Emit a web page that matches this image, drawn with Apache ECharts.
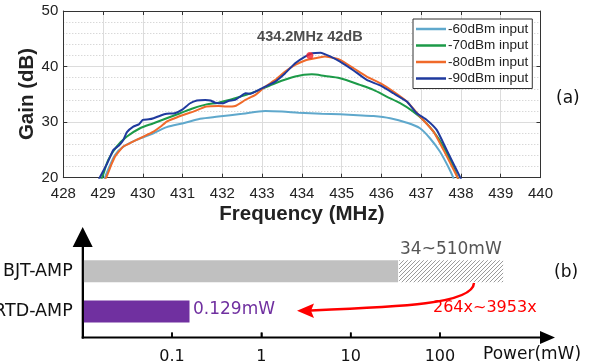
<!DOCTYPE html>
<html>
<head>
<meta charset="utf-8">
<script src="https://cdn.jsdelivr.net/npm/echarts@6/dist/echarts.min.js"></script>
<style>html,body{margin:0;padding:0;background:#fff}#c{width:603px;height:364px}</style>
</head>
<body>
<div id="c"></div>
<script>
// ---------- Data (a): gain vs frequency ----------
const seriesNames = ['-60dBm input', '-70dBm input', '-80dBm input', '-90dBm input'];
const gain60 = [[429.0,19],[429.09,20.8],[429.3,24.1],[429.51,25.6],[429.84,26.8],[430.27,28.0],[430.6,29.1],[431.02,29.8],[431.44,30.6],[431.9,31.0],[432.5,31.5],[433.08,32.0],[433.5,31.9],[433.92,31.7],[434.5,31.5],[434.96,31.4],[435.4,31.25],[435.8,31.1],[436.22,30.7],[436.64,29.9],[436.97,28.9],[437.22,27.1],[437.47,24.7],[437.72,21.4],[437.82,19.8]];
const gain70 = [[428.92,19],[429.0,20.5],[429.13,23.2],[429.34,25.6],[429.6,27.4],[429.93,28.9],[430.27,29.8],[430.6,30.7],[430.94,31.6],[431.27,32.5],[431.6,33.2],[431.9,33.5],[432.32,34.3],[432.83,35.5],[433.33,37.0],[433.83,38.2],[434.25,38.6],[434.58,38.3],[434.96,37.9],[435.46,36.7],[435.8,35.8],[436.13,34.6],[436.47,33.4],[436.8,31.9],[437.05,30.4],[437.31,28.3],[437.56,25.6],[437.86,21.1],[437.96,19]];
const gain80 = [[429.0,19],[429.09,20.2],[429.2,22.2],[429.3,23.8],[429.51,25.6],[429.7,26.3],[429.93,27.1],[430.1,27.7],[430.27,28.3],[430.45,29.2],[430.6,30.1],[430.8,30.7],[430.94,31.1],[431.27,31.9],[431.6,32.8],[431.9,32.9],[432.1,32.8],[432.32,32.9],[432.58,34.0],[432.83,34.9],[433.08,36.4],[433.33,37.6],[433.58,39.1],[433.83,40.3],[434.08,41.1],[434.33,41.5],[434.58,41.8],[434.83,41.5],[434.96,41.2],[435.3,39.7],[435.63,38.2],[435.97,37.0],[436.3,35.5],[436.64,33.7],[436.97,31.0],[437.31,28.3],[437.56,25.0],[437.86,20.8],[437.98,19]];
const gain90 = [[428.85,19],[428.95,20.5],[429.1,22.5],[429.26,25.0],[429.4,25.8],[429.51,26.8],[429.6,28.2],[429.76,29.2],[429.9,29.6],[430.0,30.4],[430.15,30.5],[430.27,30.7],[430.45,31.2],[430.6,31.5],[430.8,31.6],[430.98,32.2],[431.19,33.4],[431.36,33.9],[431.57,34.0],[431.7,33.9],[431.82,33.5],[432.03,33.4],[432.15,33.8],[432.32,34.0],[432.45,34.6],[432.58,35.2],[432.7,35.1],[432.83,35.5],[433.08,36.4],[433.33,37.3],[433.58,38.8],[433.83,40.6],[434.08,41.8],[434.26,42.4],[434.47,42.5],[434.72,41.8],[434.96,40.9],[435.3,39.3],[435.63,37.6],[435.97,36.6],[436.3,35.2],[436.64,33.7],[436.89,31.6],[437.14,30.4],[437.39,28.6],[437.64,25.0],[437.93,20.8],[438.05,19]];
const peakPoint = [434.2, 42];
const peakLabel = '434.2MHz 42dB';
const freqTicks = [428, 429, 430, 431, 432, 433, 434, 435, 436, 437, 438, 439, 440];
const gainTicks = [20, 30, 40, 50];

// ---------- Data (b): power consumption ----------
const devices = ['RTD-AMP', 'BJT-AMP'];
const powerAxisMin = 0.01;
const powerAxisMax = 1600;
const bjtSolid = 34;      // mW
const bjtMax = 510;       // mW
const rtdPower = 0.157;   // mW, bar end as drawn
const powerTicks = [0.1, 1, 10, 100];
const bjtLabel = '34~510mW';
const rtdLabel = '0.129mW';
const ratioLabel = '264x~3953x';

const colors = ['#5FA8CC', '#1C9A48', '#F06A2A', '#1F3A9E'];
const SANS = 'Liberation Sans, Arial, sans-serif';
const DJ = 'DejaVu Sans, sans-serif';

// hatch pattern
const hc = document.createElement('canvas');
hc.width = 4; hc.height = 4;
const hx = hc.getContext('2d');
hx.fillStyle = '#ffffff'; hx.fillRect(0,0,4,4);
hx.strokeStyle = '#9a9a9a'; hx.lineWidth = 1;
hx.beginPath(); hx.moveTo(-1,5); hx.lineTo(5,-1); hx.stroke();
hx.beginPath(); hx.moveTo(-1,1); hx.lineTo(1,-1); hx.stroke();
hx.beginPath(); hx.moveTo(3,5); hx.lineTo(5,3); hx.stroke();

const barData = [
  [powerAxisMin, bjtSolid, 1, 'solid'],
  [bjtSolid, bjtMax, 1, 'hatch'],
  [powerAxisMin, rtdPower, 0, 'rtd']
];

const G1 = {left: 82.7, right: 55.5};
const chart = echarts.init(document.getElementById('c'), null, {renderer: 'canvas'});
const lineSeries = [gain60, gain70, gain80, gain90].map((d, i) => ({
  name: seriesNames[i], type: 'line', xAxisIndex: 0, yAxisIndex: 0,
  data: d, showSymbol: false, symbol: 'none', smooth: (i < 2) ? 0.3 : 0.15,
  lineStyle: {width: 2, color: colors[i]}, itemStyle: {color: colors[i]}, z: 3 + i, clip: true
}));

// axis decoration geometry on the power-axis scale
const axisY = 337.5;
const gridW = 603 - G1.left - G1.right;
const lmin = Math.log10(powerAxisMin), lmax = Math.log10(powerAxisMax);
const scaleX = v => G1.left + (Math.log10(v) - lmin) / (lmax - lmin) * gridW;
const xStart = scaleX(powerAxisMin), xEnd = scaleX(powerAxisMax);
const deco = [
  {type: 'rect', z: 100, shape: {x: xStart - 1, y: axisY - 1, width: xEnd - xStart + 2, height: 2}, style: {fill: '#000'}},
  {type: 'polygon', z: 100, shape: {points: [[xEnd - 7.5, axisY - 6.5], [xEnd + 7.5, axisY], [xEnd - 7.5, axisY + 6.5]]}, style: {fill: '#000'}},
  {type: 'rect', z: 100, shape: {x: xStart - 1, y: 246, width: 2, height: axisY + 1 - 246}, style: {fill: '#000'}}
];
powerTicks.forEach(v => {
  const x = scaleX(v);
  deco.push({type: 'rect', z: 100, shape: {x: x - 0.75, y: axisY - 5, width: 1.5, height: 5}, style: {fill: '#000'}});
});

const gridOpts = {show: false, outerBoundsMode: 'none', containLabel: false};
chart.setOption({
  animation: false,
  textStyle: {fontFamily: SANS},
  grid: [
    Object.assign({left: 63.3, width: 477.2, top: 11, height: 166.7}, gridOpts),
    Object.assign({left: G1.left, right: G1.right, top: 251, bottom: 32.5}, gridOpts),
    Object.assign({left: G1.left, right: G1.right, top: 237, bottom: 26.5}, gridOpts)
  ],
  legend: {
    data: seriesNames, left: 413, top: 19, orient: 'vertical',
    backgroundColor: '#fff', borderColor: '#333', borderWidth: 1, borderRadius: 0,
    padding: [3, 4, 3, 3], itemGap: 2.5, itemWidth: 30, itemHeight: 2.5, icon: 'rect',
    textStyle: {fontFamily: SANS, fontSize: 13.5, color: '#222', padding: [0,0,0,-3]}
  },
  xAxis: [
    {type: 'value', gridIndex: 0, min: 428, max: 440, interval: 1,
     name: 'Frequency (MHz)', nameLocation: 'middle', nameGap: 26,
     nameTextStyle: {fontFamily: SANS, fontSize: 20.5, fontWeight: 'bold', color: '#222'},
     axisLine: {lineStyle: {color: '#333', width: 1}},
     axisTick: {inside: true, length: 4, lineStyle: {color: '#333'}},
     axisLabel: {fontSize: 15, color: '#222', margin: 9, formatter: v => freqTicks.includes(v) ? String(v) : ''},
     splitLine: {show: true, lineStyle: {color: '#dcdcdc', width: 1}}},
    {type: 'value', gridIndex: 0, position: 'top', min: 428, max: 440, interval: 1,
     axisLine: {lineStyle: {color: '#333', width: 1}},
     axisTick: {inside: true, length: 4, lineStyle: {color: '#333'}},
     axisLabel: {show: false}, splitLine: {show: false}},
    {type: 'log', gridIndex: 1, min: powerAxisMin, max: powerAxisMax, show: false},
    {type: 'log', gridIndex: 2, min: powerAxisMin, max: powerAxisMax, position: 'bottom',
     axisLine: {show: false},
     axisTick: {show: true, inside: true, length: 5, customValues: powerTicks, lineStyle: {color: '#000', width: 1.5}},
     axisLabel: {fontFamily: DJ, fontSize: 16, color: '#111', margin: 11, customValues: powerTicks, formatter: v => String(v)},
     splitLine: {show: false}}
  ],
  yAxis: [
    {type: 'value', gridIndex: 0, min: 20, max: 50, interval: 10,
     axisLine: {lineStyle: {color: '#333', width: 1}},
     axisTick: {inside: true, length: 4, lineStyle: {color: '#333'}},
     axisLabel: {fontSize: 15, color: '#222', margin: 5, formatter: v => gainTicks.includes(v) ? String(v) : ''},
     splitLine: {show: true, lineStyle: {color: '#dcdcdc', width: 1}},
     minorTick: {show: false, splitNumber: 5},
     minorSplitLine: {show: true, lineStyle: {color: '#c8c8c8', type: [1, 2], width: 1}}},
    {type: 'value', gridIndex: 0, position: 'right', min: 20, max: 50, interval: 10,
     axisLine: {lineStyle: {color: '#333', width: 1}},
     axisTick: {inside: true, length: 4, lineStyle: {color: '#333'}},
     axisLabel: {show: false}, splitLine: {show: false}},
    {type: 'category', gridIndex: 1, data: devices,
     axisLine: {show: false}, axisTick: {show: false},
     axisLabel: {fontFamily: DJ, fontSize: 17.5, color: '#111', margin: 10}},
    {type: 'value', gridIndex: 2, min: 0, max: 1,
     axisLine: {show: true, onZero: false, symbol: ['none', 'triangle'], symbolSize: [20, 20], lineStyle: {color: '#000', width: 2}},
     axisTick: {show: false}, axisLabel: {show: false}, splitLine: {show: false}}
  ],
  series: lineSeries.concat([
    {type: 'scatter', xAxisIndex: 0, yAxisIndex: 0, data: [peakPoint], symbolSize: 7,
     itemStyle: {color: '#F5222D'}, z: 10,
     label: {show: true, position: 'top', distance: 7, formatter: peakLabel,
             fontFamily: SANS, fontSize: 14.5, fontWeight: 'bold', color: '#222'}},
    {type: 'custom', xAxisIndex: 2, yAxisIndex: 2, data: barData, encode: {x: [0, 1], y: 2},
     renderItem: function (params, api) {
       const s = api.value(0), e = api.value(1), c = api.value(2);
       const kind = barData[params.dataIndex][3];
       const p0 = api.coord([s, c]), p1 = api.coord([e, c]);
       const h = 22;
       let fill = '#C0C0C0';
       if (kind === 'hatch') fill = {image: hc, repeat: 'repeat'};
       if (kind === 'rtd') fill = '#7030A0';
       return {type: 'rect', shape: {x: p0[0] + 1, y: p0[1] - h / 2, width: p1[0] - p0[0] - 1, height: h},
               style: {fill: fill}};
     }, z: 2}
  ]),
  graphic: [
    {type: 'text', z: 100, x: 27, y: 94, rotation: Math.PI / 2,
     style: {text: 'Gain (dB)', font: 'bold 20.5px ' + SANS, fill: '#222', align: 'center', verticalAlign: 'middle'}},
    {type: 'text', z: 100, left: 556, top: 90, style: {text: '(a)', font: '17px ' + DJ, fill: '#111'}},
    {type: 'text', z: 100, left: 554, top: 264, style: {text: '(b)', font: '17px ' + DJ, fill: '#111'}},
    {type: 'text', z: 100, left: 400, top: 241, style: {text: bjtLabel, font: '17px ' + DJ, fill: '#555'}},
    {type: 'text', z: 100, left: 193, top: 301, style: {text: rtdLabel, font: '17px ' + DJ, fill: '#7030A0'}},
    {type: 'text', z: 100, left: 433, top: 300, style: {text: ratioLabel, font: '16px ' + DJ, fill: '#FF0000'}},
    {type: 'text', z: 100, left: 483, top: 346, style: {text: 'Power(mW)', font: '17px ' + DJ, fill: '#111'}},
    {type: 'bezierCurve', z: 100, shape: {x1: 474, y1: 283, cpx1: 473, cpy1: 304, cpx2: 400, cpy2: 307, x2: 311, y2: 310.5},
     style: {stroke: '#FF0000', lineWidth: 2.5, fill: null}},
    {type: 'polygon', z: 100, shape: {points: [[297, 310.7], [314, 303.5], [311, 310.7], [314, 318]]},
     style: {fill: '#FF0000'}}
  ].concat(deco)
});
</script>
</body>
</html>
